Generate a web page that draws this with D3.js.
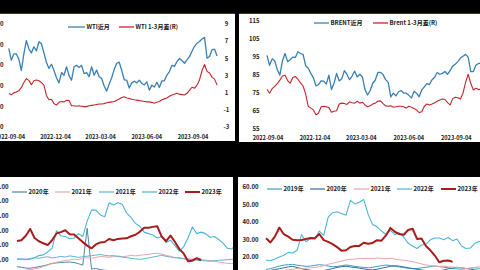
<!DOCTYPE html>
<html lang="zh">
<head>
<meta charset="UTF-8">
<title>WTI / Brent</title>
<script src="https://cdn.jsdelivr.net/npm/d3@7"></script>
<style>
  html, body { margin: 0; padding: 0; background: #000; }
  svg { display: block; }
  text { font-family: "Noto Sans CJK SC", "DejaVu Sans", sans-serif; fill: #1a1a1a; font-weight: bold; }
</style>
</head>
<body>
<div id="chart"></div>
<script>
// ---- top charts: days since 2022-09-04 ----
const topDays = [-2,3,8,13,18,23,28,33,38,43,48,53,58,63,68,73,78,83,88,93,98,103,108,113,118,123,128,133,138,143,148,153,158,163,168,173,178,183,188,193,198,203,208,213,218,223,228,233,238,243,248,253,258,263,268,273,278,283,288,293,298,303,308,313,318,323,328,333,338,343,348,353,358,363,368,373,378,383,388,393,398,403,408,413];
const topTickDays = [0, 91, 181, 273, 365];
const topTickLabels = ["2022-09-04", "2022-12-04", "2023-03-04", "2023-06-04", "2023-09-04"];

const wtiNear = [88.2,82.5,85.5,85.5,83,77.5,85.5,92,88,86,
  89,87,91.4,90.5,86,81.5,78.5,80.5,77.5,74,
  71.5,76.5,75.2,79.3,75,72.8,79.3,80,79,80,
  76,76.5,74.5,79.3,75.2,77.7,74.5,73.6,70,67.5,
  71,74,78,81,81.5,77.5,73,72.8,69,71.5,
  72.3,71.5,72.8,71.2,70.5,72,68,70.4,69.5,71.8,
  69.3,72.5,72.5,75.3,77,80,79.5,81.8,83.3,82.3,
  81,82.6,84.2,86.8,89.2,90.7,91.5,92.7,93.5,83.5,
  84.3,87.5,87.8,84.5];
const wtiSpread = [0.94,0.78,1.0,1.1,1.25,1.6,2.2,2.65,2.45,1.95,
  2.4,2.5,2.4,2.2,1.9,0.7,0.2,0.25,-0.25,-0.42,
  -0.1,0.0,-0.05,0.15,0.1,-0.5,-0.5,-0.55,-0.5,-0.55,
  -0.6,-0.6,-0.5,-0.45,-0.4,-0.35,-0.3,-0.3,-0.25,-0.15,
  -0.1,-0.05,0.0,0.15,0.3,0.45,0.55,0.4,0.35,0.25,
  0.2,0.16,0.1,0.05,0.0,-0.05,-0.05,-0.1,-0.2,-0.1,
  0.0,0.2,0.3,0.4,0.6,0.75,0.85,0.95,0.85,0.8,
  0.75,0.95,1.3,1.65,1.55,1.9,2.5,3.6,4.3,3.5,
  3.3,2.8,2.6,1.9];
const wtiLeftTicks = [100, 90, 80, 70, 60, 50];
const wtiRightTicks = [9, 7, 5, 3, 1, -1, -3];

const brentNear = [96,90.5,94,93,88,85,93,97,92.5,93.5,
  95,94.8,98,97,96.5,90.2,88.8,86,83.5,79,
  79.8,81.8,81.7,80,85,77,80.5,86,81.8,83,
  87.5,85.5,82.5,84.5,87.2,84,85.5,84,77,74,
  76.5,80.5,82.3,86.5,86.5,85.3,82.5,81,73,75,
  73.5,75.8,76.5,75,75,73.8,72.4,76,75,73,
  76.8,78.5,80.3,79.8,82.5,83.8,86.5,85.5,86,87,
  85.5,87.5,90,91,92.5,94.5,95.5,96.5,95,87,
  87,90.5,91.5,91.5];
const brentSpread = [1.44,1.0,1.5,1.75,2.05,2.45,2.9,3.0,2.4,2.1,
  2.75,2.85,2.55,2.15,1.8,0.9,-0.45,-0.65,-0.85,-1.4,
  -1.2,-0.5,-0.45,-0.5,-0.6,-1.1,-1.0,-0.95,-0.2,-0.1,
  -0.15,-0.25,0.05,-0.05,-0.1,0.1,-0.1,0.0,-0.3,-0.5,
  -0.4,-0.2,-0.1,0.1,0.15,-0.15,-0.4,-0.45,-0.4,-0.55,
  -0.5,-0.45,-0.45,-0.5,-0.65,-0.45,-0.55,-0.7,-0.85,-1.15,
  -1.05,-0.45,-0.2,-0.3,-0.2,-0.05,0.1,0.25,0.35,0.3,
  -0.05,-0.3,0.4,0.55,0.5,0.35,1.0,2.2,3.1,2.1,
  1.35,1.55,1.4,1.45];
const brentTicks = [115, 105, 95, 85, 75, 65, 55];

// ---- bottom charts: day of year, weekly ----
const weekDays = [1,8,15,22,29,36,43,50,57,64,71,78,85,92,99,106,113,120,127,134,141,148,155,162,169,176,183,190,197,204,211,218,225,232,239,246,253,260,267,274,281,288,295,302,309,316,323,330,337,344,351,358];

const leftYears = ["2020年", "2021年", "2021年", "2022年", "2023年"];
const blA = [5.5,5,4.5,4.4,4.8,5.5,6,6.8,7.7,8,
  8.3,8.5,8.6,8.3,7.5,6.5,31.7,3.8,4.2,3.5,
  3,2.8,2.5,2.5,2.2,2,2,1.8,1.8,1.5,
  1.6,1.5,1.4,1.5,1.3,1.2,1.2,1.1,1,1,
  1.1,1,1.2,1.3,1.2,1.1,1,1.2,1.3,1.4,
  1.3,1.5];
const blB = [2,2.5,3,3.5,4,4.5,5.5,6.5,7.5,8.5,
  9,9.8,10,10.6,10.4,11,11.6,11.2,11.8,12.4,
  12.2,11.8,12.3,12.8,12.2,12.6,13.2,12.8,13.2,13.6,
  13.8,14.4,14.6,14,13.2,12.5,11.6,11.8,11,10.8,
  10.7,10.9,10.2,10,9.5,9.2,8.6,8.2,7.7,7.5,
  7.8,8];
const blC = [10.7,10.8,10.5,11,11.5,11.2,11.8,12.2,11.5,11.8,
  12.5,12,12.8,12.4,11.8,12.2,12.6,13,13.4,13.8,
  13.2,12.8,13,12.4,12,11.6,11.2,10.8,10.5,10.8,
  11.4,12,12.6,13.2,12.5,12,11.6,11.2,10.8,10.5,
  10.2,9.8,9.6,9.4,9.2,9.5,9.8,10,10.2,10.5,
  10.8,11];
const blD = [10.5,10.5,10.3,10.5,11.5,13,13.5,15.5,18,30,
  26.5,26,24.5,25,28,26,36.5,44,44,40.7,
  39.5,49,47.5,49,48,42,39,35,33,29,
  28,27,25,26,22,23.5,20,16,19,25,
  32.5,28,29,28,25.5,26,24,21.5,18,17.5,
  21,20];
const blE = [23,23.5,26.5,31.2,25,22.8,21.4,20.2,23.5,28.1,
  29,30.3,27.5,27.4,24.8,22.2,19.8,18,20.6,22,
  22.3,24.3,23.5,24.4,24.6,24.8,26.2,27.2,29.2,32,
  32,32.6,33,26,22.8,26.6,22.5,17.6,14.4,9.2,
  9.5,11.2,10];
const leftTicks = [60, 50, 40, 30, 20, 10];

const rightYears = ["2019年", "2020年", "2021年", "2022年", "2023年"];
const br2019 = [13,13.5,14.2,15,15.5,15.8,16,15.5,15.2,14.8,
  15,15.4,15.8,15.5,15,14.6,14.8,15.2,15.6,15.3,
  14.8,14.5,14.2,14,14.3,14.8,15.2,15.6,15.3,14.9,
  14.5,14.1,13.8,13.5,13.6,14,14.3,14.6,15,14.7,
  14.3,14,13.6,13.4,13.2,13.5,13.8,14,13.7,13.4,
  13.2,13];
const br2020 = [12,12.5,13,13.5,14,14.5,14.8,14.2,13.5,13,
  12.6,12.2,11.8,12.4,13,13.6,14.2,14.6,14.9,14.5,
  14.2,13.8,13.4,13,12.8,13.2,13.8,14.3,14.8,15.2,
  14.9,14.5,14,13.6,13.2,12.8,12.4,12,11.8,12.2,
  12.8,13.4,13.9,14.3,14,13.6,13.2,12.8,12.5,12.2,
  12,11.8];
const br2021 = [10.5,11,11.5,12,12.5,13,13.2,13.6,13.4,13.8,
  14,14.2,14.6,15.2,16,16.6,17.2,17.8,18.5,18.8,
  19,19.4,19.2,19.5,19.3,19.6,19.4,19.2,19.5,19,
  18.6,18.3,17.9,17.5,16.9,16.2,15.6,15.3,15,14.8,
  14.9,14.6,14.4,14.2,14,13.6,13.8,14.2,14.6,14.4,
  14.2,14.5];
const br2022 = [18.5,18,19,20.2,21.2,22.8,22.5,24,33,28.9,
  30.7,30.5,35,32.5,43,45.5,46,45,44,52.5,
  50.5,51.5,53,44.5,38.8,37.4,35,33,35.4,32.9,
  34,31.5,28,26.5,25,27,27.5,30,31,31,
  30,31.3,29.5,30.5,26.5,25,25.3,28,29,29,
  28.5,29];
const br2023 = [30.9,28.5,31.8,37,33.2,31.8,30,29.8,29.9,30.5,
  31,30.9,33.3,29.8,28.8,27.5,25.8,23.8,24,25.9,
  26.5,26.5,28.3,27.8,28.2,29.8,29.5,32.5,36.8,34.6,
  33.3,32.9,35.6,36.3,30.5,30.7,26.5,24,21,17.2,
  18,18.2,17.5];
const rightTicks = [60, 50, 40, 30, 20, 10];

// ---- drawing ----
const width = 480, height = 270;
const svg = d3.select("#chart").append("svg")
    .attr("width", width)
    .attr("height", height);

svg.append("rect").attr("width", width).attr("height", height).attr("fill", "#000");

function makePanel(id, x0, y0, x1, y1) {
    svg.append("clipPath").attr("id", id)
        .append("rect").attr("x", x0).attr("y", y0).attr("width", x1 - x0).attr("height", y1 - y0);
    const g = svg.append("g").attr("clip-path", `url(#${id})`);
    g.append("rect").attr("x", x0).attr("y", y0).attr("width", x1 - x0).attr("height", y1 - y0).attr("fill", "#fff");
    return g;
}

function drawLine(g, xs, ys, x, y, color, w) {
    const line = d3.line().x(d => x(d[0])).y(d => y(d[1]));
    g.append("path")
        .datum(d3.zip(xs, ys))
        .attr("d", line)
        .attr("fill", "none")
        .attr("stroke", color)
        .attr("stroke-width", w)
        .attr("stroke-linejoin", "round");
}

function yLabels(g, ticks, y, xPos, anchor, fmt) {
    g.selectAll(null).data(ticks).enter().append("text")
        .attr("x", xPos)
        .attr("y", d => y(d))
        .attr("dy", "0.35em")
        .attr("text-anchor", anchor)
        .style("font-size", "6px")
        .text(fmt);
}

function xLabels(g, x, yPos) {
    g.selectAll(null).data(topTickDays).enter().append("text")
        .attr("x", d => x(d))
        .attr("y", yPos)
        .attr("text-anchor", "middle")
        .style("font-size", "5.6px")
        .text((d, i) => topTickLabels[i]);
}

function legend(g, items, yPos) {
    items.forEach(it => {
        g.append("line")
            .attr("x1", it.x).attr("x2", it.x + it.len)
            .attr("y1", yPos).attr("y2", yPos)
            .attr("stroke", it.color).attr("stroke-width", it.w);
        g.append("text")
            .attr("x", it.x + it.len + 1.5)
            .attr("y", yPos)
            .attr("dy", "0.35em")
            .style("font-size", "6px")
            .text(it.label);
    });
}

const blue = "#3a80b4", red = "#c3262c";

// top-left: WTI
{
    const g = makePanel("clipA", 0, 13, 235, 141);
    const x = d3.scaleLinear().domain([0, 365]).range([9.8, 193]);
    const yL = d3.scaleLinear().domain([50, 100]).range([127.3, 24]);
    const yR = d3.scaleLinear().domain([-3, 9]).range([127.3, 24]);
    drawLine(g, topDays, wtiSpread, x, yR, red, 1.1);
    drawLine(g, topDays, wtiNear, x, yL, blue, 1.3);
    yLabels(g, wtiLeftTicks, yL, 3.5, "end", d => d);
    yLabels(g, wtiRightTicks, yR, 226.5, "middle", d => d);
    xLabels(g, x, 138.5);
    legend(g, [
        { x: 68, len: 17, color: blue, w: 1.3, label: "WTI近月" },
        { x: 119, len: 15, color: red, w: 1.3, label: "WTI 1-3月差(R)" }
    ], 27);
    g.append("line").attr("x1", 0).attr("x2", 235).attr("y1", 13.5).attr("y2", 13.5)
        .attr("stroke", "#22365a").attr("stroke-width", 1.2);
}

// top-right: Brent
{
    const g = makePanel("clipB", 239, 13, 480, 142);
    const x = d3.scaleLinear().domain([0, 365]).range([268, 456.3]);
    const yL = d3.scaleLinear().domain([55, 115]).range([129.3, 21]);
    const yR = d3.scaleLinear().domain([-3, 9]).range([129.3, 21]);
    drawLine(g, topDays, brentSpread, x, yR, red, 1.1);
    drawLine(g, topDays, brentNear, x, yL, blue, 1.3);
    yLabels(g, brentTicks, yL, 259.5, "end", d => d);
    xLabels(g, x, 139.5);
    legend(g, [
        { x: 314, len: 15, color: blue, w: 1.3, label: "BRENT近月" },
        { x: 373, len: 15, color: red, w: 1.3, label: "Brent 1-3月差(R)" }
    ], 23);
    g.append("line").attr("x1", 239).attr("x2", 480).attr("y1", 13.5).attr("y2", 13.5)
        .attr("stroke", "#22365a").attr("stroke-width", 1.2);
}

// bottom-left seasonal
{
    const g = makePanel("clipC", 0, 177, 233, 270);
    const x = d3.scaleLinear().domain([1, 365]).range([17, 245]);
    const y = d3.scaleLinear().domain([10, 60]).range([260, 186.7]);
    const colors = ["#4b87a6", "#e9a5af", "#5fb5cf", "#4db3d6", "#a81c1c"];
    const widths = [1, 1, 1, 1.1, 2];
    const series = [blA, blB, blC, blD, blE];
    series.forEach((s, i) => drawLine(g, weekDays.slice(0, s.length), s, x, y, colors[i], widths[i]));
    yLabels(g, leftTicks, y, 8.5, "end", d => d3.format(".2f")(d));
    const lx = [12, 55, 99, 142, 185];
    legend(g, leftYears.map((t, i) => ({ x: lx[i], len: 15, color: colors[i], w: i === 4 ? 2 : 1.2, label: t })), 192);
}

// bottom-right seasonal
{
    const g = makePanel("clipD", 238, 177, 480, 270);
    const x = d3.scaleLinear().domain([1, 365]).range([266, 497]);
    const y = d3.scaleLinear().domain([20, 60]).range([257.3, 187.3]);
    const colors = ["#3f9fba", "#2f6f9c", "#eaa3ad", "#4db6d6", "#a81c1c"];
    const widths = [1, 1, 1, 1.1, 2];
    const series = [br2019, br2020, br2021, br2022, br2023];
    series.forEach((s, i) => drawLine(g, weekDays.slice(0, s.length), s, x, y, colors[i], widths[i]));
    yLabels(g, rightTicks, y, 258.5, "end", d => d3.format(".2f")(d));
    const lx = [267, 310, 354, 397, 441];
    legend(g, rightYears.map((t, i) => ({ x: lx[i], len: 15, color: colors[i], w: i === 4 ? 2 : 1.2, label: t })), 189);
}
</script>
</body>
</html>
